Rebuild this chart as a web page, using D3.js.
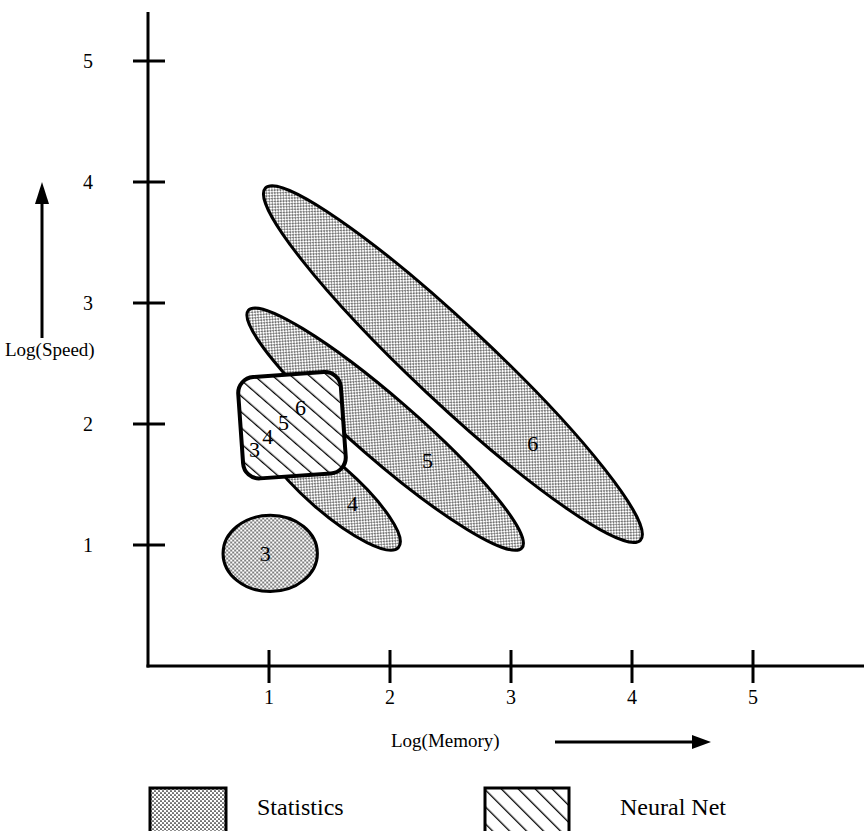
<!DOCTYPE html>
<html>
<head>
<meta charset="utf-8">
<script src="https://cdn.jsdelivr.net/npm/d3@7"></script>
<style>
  html, body { margin: 0; padding: 0; background: #fff; }
  svg { display: block; }
  text { font-family: "Liberation Serif", "Times New Roman", serif; fill: #000; }
</style>
</head>
<body>
<svg id="chart" width="864" height="831"></svg>
<script>
// Axis ticks (log units)
const xTicks = [1, 2, 3, 4, 5];
const yTicks = [1, 2, 3, 4, 5];

// Statistics regions: each drawn as an ellipse between two tips, with a full width (log units)
const statLabels = ["6", "5", "4", "3"];
const statTipA   = [[0.97, 3.95], [0.83, 2.94], [0.93, 1.98], [0.62, 0.93]];
const statTipB   = [[4.07, 1.04], [3.09, 0.975], [2.07, 0.98], [1.40, 0.93]];
const statWidth  = [0.64, 0.51, 0.40, 0.63];
const statLabelPos = [[3.18, 1.84], [2.31, 1.70], [1.69, 1.35], [0.97, 0.93]];

// Neural net region: a rounded square
const nnCenter = [1.19, 1.99];
const nnSize   = [0.85, 0.84];
const nnLabels = ["3", "4", "5", "6"];
const nnLabelPos = [[0.88, 1.79], [0.99, 1.90], [1.12, 2.02], [1.26, 2.14]];

const legendItems = ["Statistics", "Neural Net"];

const svg = d3.select("#chart");

const x = d3.scaleLinear().domain([0, 5]).range([148, 753]);
const y = d3.scaleLinear().domain([0, 5]).range([666, 61]);

// Patterns: fine stipple for statistics, diagonal hatch for neural net
const defs = svg.append("defs");
const dots = defs.append("pattern")
  .attr("id", "stipple").attr("patternUnits", "userSpaceOnUse")
  .attr("width", 4).attr("height", 4);
dots.append("rect").attr("width", 4).attr("height", 4).attr("fill", "#fff");
dots.append("circle").attr("cx", 1).attr("cy", 1).attr("r", 0.85).attr("fill", "#000");
dots.append("circle").attr("cx", 3).attr("cy", 3).attr("r", 0.85).attr("fill", "#000");

const hatch = defs.append("pattern")
  .attr("id", "hatch").attr("patternUnits", "userSpaceOnUse")
  .attr("width", 12).attr("height", 12)
  .attr("patternTransform", "rotate(-45)");
hatch.append("rect").attr("width", 12).attr("height", 12).attr("fill", "#fff");
hatch.append("line").attr("x1", 0).attr("y1", 0).attr("x2", 0).attr("y2", 12)
  .attr("stroke", "#000").attr("stroke-width", 2.6);

// Axes lines
svg.append("line").attr("x1", x(0)).attr("y1", 12).attr("x2", x(0)).attr("y2", y(0) + 1.5)
  .attr("stroke", "#000").attr("stroke-width", 3);
svg.append("line").attr("x1", x(0) - 1.5).attr("y1", y(0)).attr("x2", 864).attr("y2", y(0))
  .attr("stroke", "#000").attr("stroke-width", 3);

// Cross ticks
const xAxis = svg.append("g");
xAxis.selectAll("line").data(xTicks).join("line")
  .attr("x1", d => x(d)).attr("x2", d => x(d))
  .attr("y1", y(0) - 16).attr("y2", y(0) + 17)
  .attr("stroke", "#000").attr("stroke-width", 3);
xAxis.selectAll("text").data(xTicks).join("text")
  .attr("x", d => x(d)).attr("y", y(0) + 38)
  .attr("text-anchor", "middle").attr("font-size", 20).text(d => d);

const yAxis = svg.append("g");
yAxis.selectAll("line").data(yTicks).join("line")
  .attr("x1", x(0) - 15).attr("x2", x(0) + 17)
  .attr("y1", d => y(d)).attr("y2", d => y(d))
  .attr("stroke", "#000").attr("stroke-width", 3);
yAxis.selectAll("text").data(yTicks).join("text")
  .attr("x", 88).attr("y", d => y(d) + 7)
  .attr("text-anchor", "middle").attr("font-size", 20).text(d => d);

// Statistics ellipses
const regions = statLabels.map((lab, i) => {
  const ax = x(statTipA[i][0]), ay = y(statTipA[i][1]);
  const bx = x(statTipB[i][0]), by = y(statTipB[i][1]);
  const wpx = statWidth[i] * (x(1) - x(0));
  return {
    cx: (ax + bx) / 2, cy: (ay + by) / 2,
    rx: Math.hypot(bx - ax, by - ay) / 2, ry: wpx / 2,
    angle: Math.atan2(by - ay, bx - ax) * 180 / Math.PI
  };
});
svg.append("g").selectAll("ellipse").data(regions).join("ellipse")
  .attr("cx", 0).attr("cy", 0)
  .attr("rx", d => d.rx).attr("ry", d => d.ry)
  .attr("transform", d => `translate(${d.cx},${d.cy}) rotate(${d.angle})`)
  .attr("fill", "url(#stipple)").attr("stroke", "#000").attr("stroke-width", 3);

svg.append("g").selectAll("text").data(statLabels).join("text")
  .attr("x", (d, i) => x(statLabelPos[i][0]))
  .attr("y", (d, i) => y(statLabelPos[i][1]) + 8)
  .attr("text-anchor", "middle").attr("font-size", 22).text(d => d);

// Neural net rounded square
const nnW = nnSize[0] * (x(1) - x(0));
const nnH = nnSize[1] * (y(0) - y(1));
svg.append("rect")
  .attr("x", -nnW / 2).attr("y", -nnH / 2).attr("width", nnW).attr("height", nnH)
  .attr("rx", 16).attr("ry", 16)
  .attr("transform", `translate(${x(nnCenter[0])},${y(nnCenter[1])}) rotate(-4)`)
  .attr("fill", "url(#hatch)").attr("stroke", "#000").attr("stroke-width", 4);

svg.append("g").selectAll("text").data(nnLabels).join("text")
  .attr("x", (d, i) => x(nnLabelPos[i][0]))
  .attr("y", (d, i) => y(nnLabelPos[i][1]) + 8)
  .attr("text-anchor", "middle").attr("font-size", 22).text(d => d);

// Axis titles with direction arrows
svg.append("text").attr("x", 391).attr("y", 747).attr("font-size", 19).text("Log(Memory)");
svg.append("line").attr("x1", 555).attr("y1", 742).attr("x2", 694).attr("y2", 742)
  .attr("stroke", "#000").attr("stroke-width", 3);
svg.append("path").attr("d", "M692,735 L711,742 L692,749 Z").attr("fill", "#000");

svg.append("text").attr("x", 5).attr("y", 356).attr("font-size", 19).text("Log(Speed)");
svg.append("line").attr("x1", 42).attr("y1", 338).attr("x2", 42).attr("y2", 200)
  .attr("stroke", "#000").attr("stroke-width", 3);
svg.append("path").attr("d", "M35,204 L42,182 L49,204 Z").attr("fill", "#000");

// Legend
const legend = svg.append("g");
const legBoxes = [{x: 150, w: 76, fill: "url(#stipple)"}, {x: 485, w: 84, fill: "url(#hatch)"}];
const legTextX = [257, 620];
legend.selectAll("rect").data(legendItems).join("rect")
  .attr("x", (d, i) => legBoxes[i].x).attr("y", 788)
  .attr("width", (d, i) => legBoxes[i].w).attr("height", 60)
  .attr("fill", (d, i) => legBoxes[i].fill).attr("stroke", "#000").attr("stroke-width", 3);
legend.selectAll("text").data(legendItems).join("text")
  .attr("x", (d, i) => legTextX[i]).attr("y", 815)
  .attr("font-size", 24).text(d => d);
</script>
</body>
</html>
